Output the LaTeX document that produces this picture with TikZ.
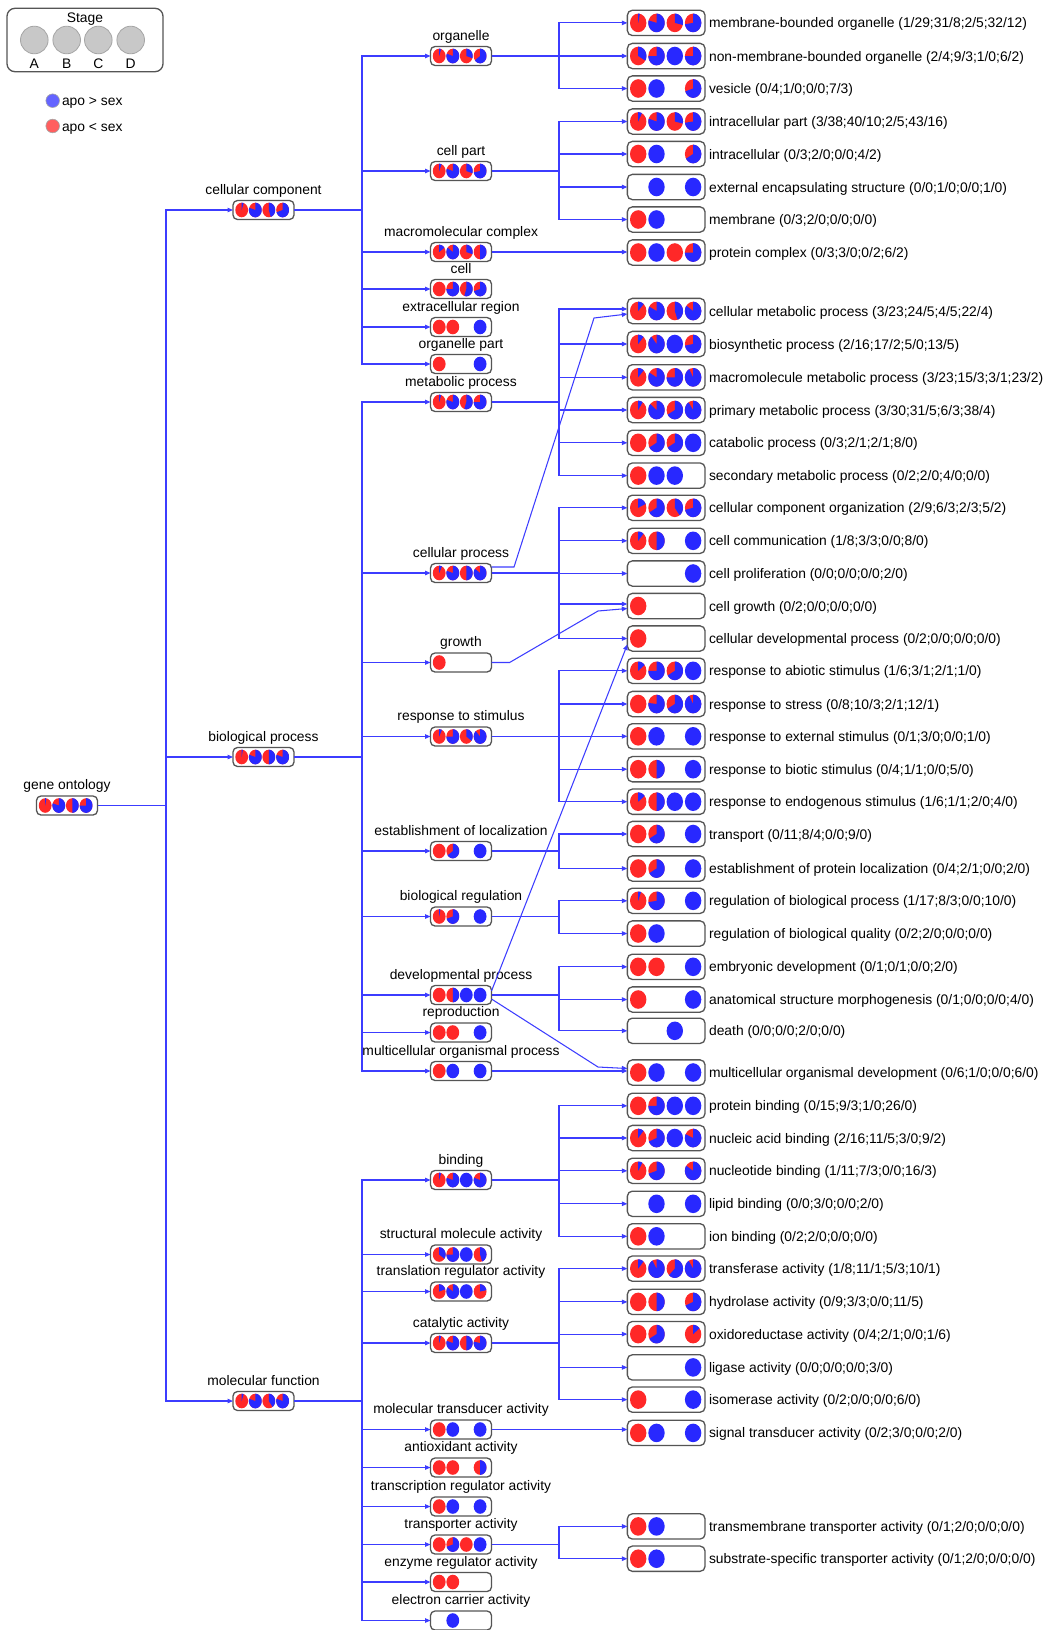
\documentclass[tikz,border=0pt]{standalone}
\usepackage{fontspec}
\setmainfont{Liberation Sans}
\usetikzlibrary{arrows.meta}
\definecolor{cR}{RGB}{255,40,40}
\definecolor{cB}{RGB}{40,40,255}
\definecolor{cL}{RGB}{60,60,255}
\definecolor{cBox}{RGB}{85,85,85}
\definecolor{lgB}{RGB}{100,100,255}
\definecolor{lgR}{RGB}{255,95,95}
\definecolor{lgG}{RGB}{200,200,200}
\definecolor{lgE}{RGB}{165,165,165}
\newcommand\gpie[6]{%
  \ifdim #5pt=0pt\relax
    \ifdim #6pt=0pt\relax\else
      \fill[cR] (#1,#2) ellipse[x radius=#3,y radius=#4];%
    \fi
  \else
    \ifdim #6pt=0pt\relax
      \fill[cB] (#1,#2) ellipse[x radius=#3,y radius=#4];%
    \else
      \fill[cR] (#1,#2) ellipse[x radius=#3,y radius=#4];%
      \pgfmathsetmacro\gpend{360*(#5/(#5+#6))}%
      \fill[cB] (#1,#2) -- plot[domain=0:\gpend,samples=36,variable=\gpt] ({#1+#3*sin(\gpt)},{#2-#4*cos(\gpt)}) -- cycle;%
    \fi
  \fi}
\def\leafpies#1|#2/#3;#4/#5;#6/#7;#8/#9|{%
  \gpie{638.2}{#1}{8.2}{9.3}{#2}{#3}%
  \gpie{656.5}{#1}{8.2}{9.3}{#4}{#5}%
  \gpie{674.8}{#1}{8.2}{9.3}{#6}{#7}%
  \gpie{693.1}{#1}{8.2}{9.3}{#8}{#9}}
\def\smallpies#1|#2/#3;#4/#5;#6/#7;#8/#9|{%
  \gpie{\gpxa}{#1}{6.4}{7.3}{#2}{#3}%
  \gpie{\gpxb}{#1}{6.4}{7.3}{#4}{#5}%
  \gpie{\gpxc}{#1}{6.4}{7.3}{#6}{#7}%
  \gpie{\gpxd}{#1}{6.4}{7.3}{#8}{#9}}
\newcommand\leaf[4]{%
  \node[leafbox] (#1) at (666.2,#2) {};%
  \leafpies#2|#4|%
  \node[leaftext] at ([xshift=4pt,yshift=-5pt]#1.east) {#3 (#4)};}
\newcommand\snode[5]{%
  \node[smallbox] (#1) at (#2,#3) {};%
  \pgfmathsetmacro\gpxa{#2-21.8}%
  \pgfmathsetmacro\gpxb{#2-8.2}%
  \pgfmathsetmacro\gpxc{#2+5.3}%
  \pgfmathsetmacro\gpxd{#2+19.1}%
  \smallpies#3|#5|%
  \node[smalltext] at ([yshift=16pt]#1.center) {#4};}
\begin{document}
\begin{tikzpicture}[x=1pt,y=-1pt,
  every node/.style={font=\fontsize{13.85}{16}\selectfont, inner sep=0pt, outer sep=0pt},
  leafbox/.style={draw=cBox, fill=white, line width=1.3pt, rounded corners=5pt, minimum width=77.7pt, minimum height=25.3pt},
  smallbox/.style={draw=cBox, fill=white, line width=1.3pt, rounded corners=4.5pt, minimum width=61pt, minimum height=19pt},
  leaftext/.style={anchor=base west},
  smalltext/.style={anchor=base},
  arr/.style={draw=cL, line width=1.05pt, -{Triangle[length=5.5pt,width=4.5pt]}}]
\useasboundingbox (0,0) rectangle (1044,1630);
\fill[white] (0,0) rectangle (1044,1630);
% legend
\node[draw=cBox, line width=1.3pt, rounded corners=8pt, minimum width=156pt, minimum height=63.4pt] (stage) at (85,40) {};
\node[anchor=base] (stagelbl) at (85,23) {Stage};
\foreach \lx/\ll in {34.3/A,66.7/B,98.3/C,130.7/D}{
  \draw[fill=lgG, draw=lgE, line width=0.8pt] (\lx,40) circle[radius=13.8];
  \node[anchor=base] at (\lx,68) {\ll};
}
\draw[fill=lgB, draw=lgE, line width=0.6pt] (52.7,100.7) circle[radius=6.8];
\node[anchor=base west] (lg1) at (62,105.7) {apo > sex};
\draw[fill=lgR, draw=lgE, line width=0.6pt] (52.7,126) circle[radius=6.8];
\node[anchor=base west] (lg2) at (62,131) {apo < sex};
% leaves
\leaf{mbo}{22.9}{membrane-bounded organelle}{1/29;31/8;2/5;32/12}
\leaf{nmbo}{56}{non-membrane-bounded organelle}{2/4;9/3;1/0;6/2}
\leaf{ves}{88.5}{vesicle}{0/4;1/0;0/0;7/3}
\leaf{ip}{121.5}{intracellular part}{3/38;40/10;2/5;43/16}
\leaf{ic}{154}{intracellular}{0/3;2/0;0/0;4/2}
\leaf{ees}{187}{external encapsulating structure}{0/0;1/0;0/0;1/0}
\leaf{mem}{219.5}{membrane}{0/3;2/0;0/0;0/0}
\leaf{pc}{252.5}{protein complex}{0/3;3/0;0/2;6/2}
\leaf{cmp}{311}{cellular metabolic process}{3/23;24/5;4/5;22/4}
\leaf{bio}{344}{biosynthetic process}{2/16;17/2;5/0;13/5}
\leaf{mmp}{377.3}{macromolecule metabolic process}{3/23;15/3;3/1;23/2}
\leaf{pmp}{410}{primary metabolic process}{3/30;31/5;6/3;38/4}
\leaf{cat}{442.8}{catabolic process}{0/3;2/1;2/1;8/0}
\leaf{smp}{475.6}{secondary metabolic process}{0/2;2/0;4/0;0/0}
\leaf{cco}{507.8}{cellular component organization}{2/9;6/3;2/3;5/2}
\leaf{ccom}{540.8}{cell communication}{1/8;3/3;0/0;8/0}
\leaf{cprol}{573.5}{cell proliferation}{0/0;0/0;0/0;2/0}
\leaf{cgrow}{606}{cell growth}{0/2;0/0;0/0;0/0}
\leaf{cdev}{638.5}{cellular developmental process}{0/2;0/0;0/0;0/0}
\leaf{abio}{670.8}{response to abiotic stimulus}{1/6;3/1;2/1;1/0}
\leaf{stress}{704}{response to stress}{0/8;10/3;2/1;12/1}
\leaf{ext}{736.3}{response to external stimulus}{0/1;3/0;0/0;1/0}
\leaf{biot}{769.2}{response to biotic stimulus}{0/4;1/1;0/0;5/0}
\leaf{endo}{801.7}{response to endogenous stimulus}{1/6;1/1;2/0;4/0}
\leaf{transp}{834}{transport}{0/11;8/4;0/0;9/0}
\leaf{epl}{868.5}{establishment of protein localization}{0/4;2/1;0/0;2/0}
\leaf{rbp}{900.8}{regulation of biological process}{1/17;8/3;0/0;10/0}
\leaf{rbq}{933.5}{regulation of biological quality}{0/2;2/0;0/0;0/0}
\leaf{emb}{966.8}{embryonic development}{0/1;0/1;0/0;2/0}
\leaf{anat}{999.5}{anatomical structure morphogenesis}{0/1;0/0;0/0;4/0}
\leaf{death}{1030.8}{death}{0/0;0/0;2/0;0/0}
\leaf{mod}{1072.5}{multicellular organismal development}{0/6;1/0;0/0;6/0}
\leaf{pbind}{1105.8}{protein binding}{0/15;9/3;1/0;26/0}
\leaf{nab}{1138}{nucleic acid binding}{2/16;11/5;3/0;9/2}
\leaf{ntb}{1170.8}{nucleotide binding}{1/11;7/3;0/0;16/3}
\leaf{lipid}{1203.8}{lipid binding}{0/0;3/0;0/0;2/0}
\leaf{ion}{1236.3}{ion binding}{0/2;2/0;0/0;0/0}
\leaf{transf}{1268.6}{transferase activity}{1/8;11/1;5/3;10/1}
\leaf{hydro}{1301.9}{hydrolase activity}{0/9;3/3;0/0;11/5}
\leaf{oxido}{1334.1}{oxidoreductase activity}{0/4;2/1;0/0;1/6}
\leaf{ligase}{1367.4}{ligase activity}{0/0;0/0;0/0;3/0}
\leaf{isom}{1399.6}{isomerase activity}{0/2;0/0;0/0;6/0}
\leaf{sigt}{1432.9}{signal transducer activity}{0/2;3/0;0/0;2/0}
\leaf{tmt}{1526.4}{transmembrane transporter activity}{0/1;2/0;0/0;0/0}
\leaf{sst}{1558.7}{substrate-specific transporter activity}{0/1;2/0;0/0;0/0}
% middle column
\snode{organelle}{461}{56}{organelle}{5/95;80/20;30/70;65/35}
\snode{cellpart}{461}{171}{cell part}{6/94;80/20;30/70;72/28}
\snode{macro}{461}{252}{macromolecular complex}{15/85;85/15;30/70;50/50}
\snode{cell}{461}{289}{cell}{0/1;75/25;55/45;70/30}
\snode{extra}{461}{327}{extracellular region}{0/1;0/1;0/0;1/0}
\snode{opart}{461}{364}{organelle part}{0/1;0/0;0/0;1/0}
\snode{metab}{461}{402}{metabolic process}{5/95;80/20;55/45;75/25}
\snode{cellproc}{461}{573}{cellular process}{7/93;80/20;50/50;85/15}
\snode{growth}{461}{662.5}{growth}{0/1;0/0;0/0;0/0}
\snode{resp}{461}{736.5}{response to stimulus}{7/93;75/25;35/65;88/12}
\snode{estloc}{461}{851}{establishment of localization}{0/1;65/35;0/0;1/0}
\snode{bioreg}{461}{916.5}{biological regulation}{3/97;70/30;0/0;1/0}
\snode{devproc}{461}{995}{developmental process}{0/1;50/50;1/0;1/0}
\snode{repro}{461}{1032.5}{reproduction}{0/1;0/1;0/0;1/0}
\snode{mop}{461}{1071}{multicellular organismal process}{0/1;1/0;0/0;1/0}
\snode{binding}{461}{1180}{binding}{5/95;80/20;1/0;80/20}
\snode{struct}{461}{1254.5}{structural molecule activity}{35/65;75/25;1/0;45/55}
\snode{transl}{461}{1291.5}{translation regulator activity}{20/80;85/15;1/0;22/78}
\snode{catal}{461}{1343}{catalytic activity}{5/95;80/20;50/50;78/22}
\snode{moltr}{461}{1429.5}{molecular transducer activity}{0/1;1/0;0/0;1/0}
\snode{antiox}{461}{1467.5}{antioxidant activity}{0/1;0/1;0/0;50/50}
\snode{transcr}{461}{1506.5}{transcription regulator activity}{0/1;1/0;0/0;1/0}
\snode{transporter}{461}{1544.5}{transporter activity}{0/1;70/30;0/1;1/0}
\snode{enzreg}{461}{1582}{enzyme regulator activity}{0/1;0/1;0/0;0/0}
\snode{electron}{461}{1620.5}{electron carrier activity}{0/0;1/0;0/0;0/0}
% first column and root
\snode{cc}{263.5}{210}{cellular component}{5/95;80/20;45/55;70/30}
\snode{bp}{263.5}{757}{biological process}{3/97;80/20;50/50;80/20}
\snode{mf}{263.5}{1401}{molecular function}{5/95;80/20;40/60;80/20}
\snode{root}{67}{805.5}{gene ontology}{3/97;80/20;50/50;75/25}
% bus coordinates
\coordinate (X0) at (166,0);
\coordinate (X1) at (362,0);
\coordinate (X2) at (559,0);
% connectors
\foreach \t in {cc,bp,mf} \draw[arr] (root.east) -- (X0 |- root.east) |- (\t.west);
\foreach \t in {organelle,cellpart,macro,cell,extra,opart} \draw[arr] (cc.east) -- (X1 |- cc.east) |- (\t.west);
\foreach \t in {metab,cellproc,growth,resp,estloc,bioreg,devproc,repro,mop} \draw[arr] (bp.east) -- (X1 |- bp.east) |- (\t.west);
\foreach \t in {binding,struct,transl,catal,moltr,antiox,transcr,transporter,enzreg,electron} \draw[arr] (mf.east) -- (X1 |- mf.east) |- (\t.west);
\foreach \t in {mbo,nmbo,ves} \draw[arr] (organelle.east) -- (X2 |- organelle.east) |- (\t.west);
\foreach \t in {ip,ic,ees,mem} \draw[arr] (cellpart.east) -- (X2 |- cellpart.east) |- (\t.west);
\draw[arr] (macro.east) -- (macro.east -| pc.west);
\draw[arr] (metab.east) -- (X2 |- metab.east) |- ([yshift=2pt]cmp.west);
\foreach \t in {bio,mmp,pmp,cat,smp} \draw[arr] (metab.east) -- (X2 |- metab.east) |- (\t.west);
\foreach \t in {cco,ccom,cprol,cdev} \draw[arr] (cellproc.east) -- (X2 |- cellproc.east) |- (\t.west);
\draw[arr] (cellproc.east) -- (X2 |- cellproc.east) |- ([yshift=2pt]cgrow.west);
\foreach \t in {abio,stress,ext,biot,endo} \draw[arr] (resp.east) -- (X2 |- resp.east) |- (\t.west);
\foreach \t in {transp,epl} \draw[arr] (estloc.east) -- (X2 |- estloc.east) |- (\t.west);
\foreach \t in {rbp,rbq} \draw[arr] (bioreg.east) -- (X2 |- bioreg.east) |- (\t.west);
\foreach \t in {emb,anat,death} \draw[arr] (devproc.east) -- (X2 |- devproc.east) |- (\t.west);
\draw[arr] (mop.east) -- (mop.east -| mod.west);
\foreach \t in {pbind,nab,ntb,lipid,ion} \draw[arr] (binding.east) -- (X2 |- binding.east) |- (\t.west);
\foreach \t in {transf,hydro,oxido,ligase,isom} \draw[arr] (catal.east) -- (X2 |- catal.east) |- (\t.west);
\draw[arr] (moltr.east) -- (moltr.east -| sigt.west);
\foreach \t in {tmt,sst} \draw[arr] (transporter.east) -- (X2 |- transporter.east) |- (\t.west);
% cross links
\coordinate (d1a) at (514,567);
\coordinate (d1) at (594,318);
\coordinate (d2a) at (509.6,662.5);
\coordinate (d2b) at (598,611);
\coordinate (d4) at (598,1067);
\draw[arr] ([yshift=6pt]cellproc.east) -- (d1a) -- (d1) -- ([yshift=-3pt]cmp.west);
\draw[arr] (growth.east) -- (d2a) -- (d2b) -- ([yshift=-2.5pt]cgrow.west);
\draw[arr] ([yshift=4pt]devproc.east) -- ([yshift=-6pt]cdev.west);
\draw[arr] ([yshift=-4pt]devproc.east) -- (d4) -- ([yshift=4pt]mod.west);
\end{tikzpicture}
\end{document}
